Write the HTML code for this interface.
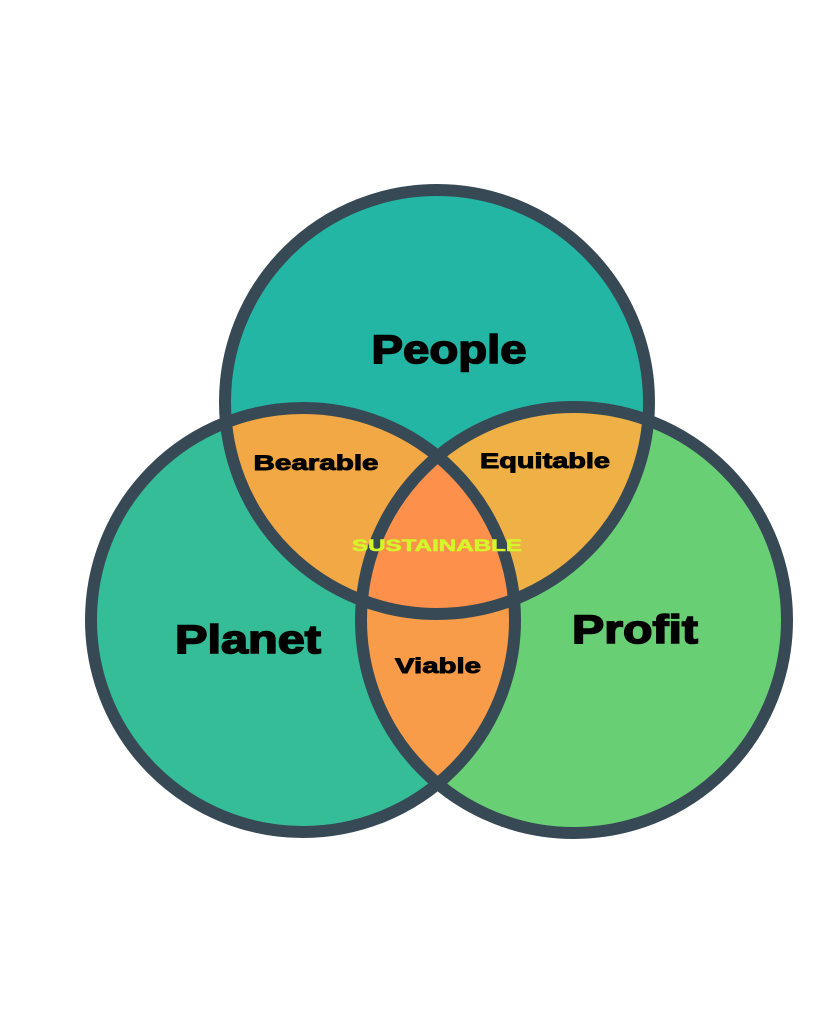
<!DOCTYPE html>
<html><head><style>html,body{margin:0;padding:0;background:#fff;}svg{display:block}</style></head>
<body>
<svg width="819" height="1024" viewBox="0 0 819 1024" xmlns="http://www.w3.org/2000/svg">
<defs>
<clipPath id="cT"><circle cx="437" cy="402" r="212"/></clipPath>
<clipPath id="cL"><circle cx="303" cy="620" r="212"/></clipPath>
<clipPath id="cR"><circle cx="574" cy="620" r="213"/></clipPath>
</defs>
<rect width="819" height="1024" fill="#fff"/>
<circle cx="303" cy="620" r="212" fill="#35bd98"/>
<circle cx="574" cy="620" r="213" fill="#68cf74"/>
<circle cx="437" cy="402" r="212" fill="#23b6a4"/>
<g clip-path="url(#cT)"><circle cx="303" cy="620" r="212" fill="#f2a845"/><circle cx="574" cy="620" r="213" fill="#efb045"/></g>
<g clip-path="url(#cL)"><circle cx="574" cy="620" r="213" fill="#f89c4a"/></g>
<g clip-path="url(#cT)"><g clip-path="url(#cL)"><circle cx="574" cy="620" r="213" fill="#fd914b"/></g></g>
<g fill="none" stroke="#374955" stroke-width="12">
<circle cx="437" cy="402" r="212"/>
<circle cx="303" cy="620" r="212"/>
<circle cx="574" cy="620" r="213"/>
</g>
<g font-family="Liberation Sans, sans-serif" font-weight="bold" fill="#000" stroke="#000" text-anchor="middle" lengthAdjust="spacingAndGlyphs">
<text x="449" y="363" font-size="40" stroke-width="1.6" textLength="155" lengthAdjust="spacingAndGlyphs">People</text>
<text x="248" y="653" font-size="40" stroke-width="1.6" textLength="146" lengthAdjust="spacingAndGlyphs">Planet</text>
<text x="635" y="643" font-size="40" stroke-width="1.6" textLength="126" lengthAdjust="spacingAndGlyphs">Profit</text>
<text x="316" y="470" font-size="21" stroke-width="0.9" textLength="125" lengthAdjust="spacingAndGlyphs">Bearable</text>
<text x="545" y="468" font-size="21" stroke-width="0.9" textLength="130" lengthAdjust="spacingAndGlyphs">Equitable</text>
<text x="438" y="673" font-size="21" stroke-width="0.9" textLength="86" lengthAdjust="spacingAndGlyphs">Viable</text>
<text x="437" y="551" font-size="17" fill="#d4f52a" stroke="#d4f52a" stroke-width="0.6" textLength="170" lengthAdjust="spacingAndGlyphs">SUSTAINABLE</text>
</g>
</svg>
</body></html>
